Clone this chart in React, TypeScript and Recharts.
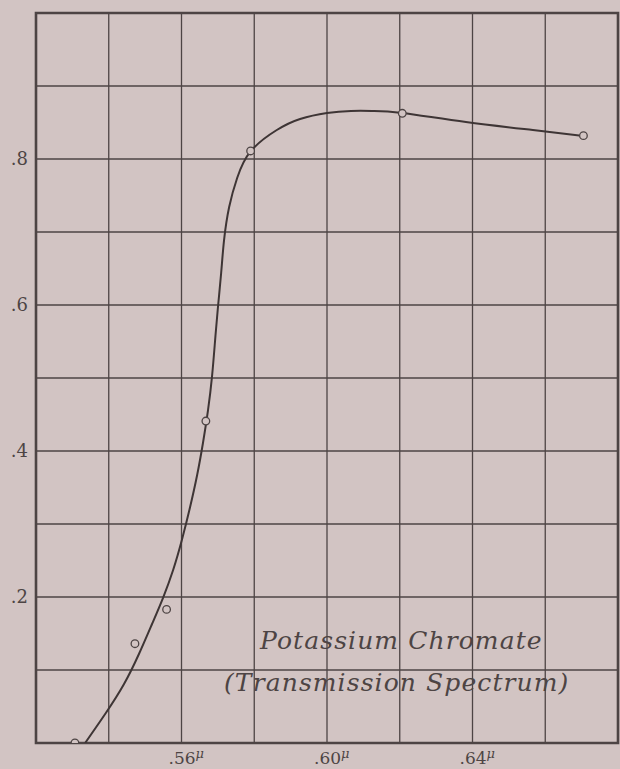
import React from 'react';
import { ComposedChart, Line, Scatter, XAxis, YAxis, CartesianGrid, ReferenceArea } from 'recharts';

// wavelength (micron) grid and labelled ticks
const xGrid = [0.52, 0.54, 0.56, 0.58, 0.6, 0.62, 0.64, 0.66, 0.68];
const xLabelled = [0.56, 0.6, 0.64];
const yGrid = [0, 0.1, 0.2, 0.3, 0.4, 0.5, 0.6, 0.7, 0.8, 0.9, 1];
const yLabelled = [0.2, 0.4, 0.6, 0.8];

// observed points (open circles)
const obsWave = [0.5307, 0.5472, 0.5559, 0.5667, 0.579, 0.6207, 0.6705];
const obsTrans = [0, 0.136, 0.183, 0.441, 0.811, 0.8626, 0.832];

// drawn curve
const curveWave = [0.5335, 0.5392, 0.5442, 0.5483, 0.5519, 0.5549, 0.5577, 0.5601, 0.5623, 0.5643, 0.5659, 0.5673, 0.5684, 0.5692, 0.57, 0.5709, 0.5717, 0.5731, 0.5753, 0.5791, 0.5862, 0.5926, 0.6, 0.6066, 0.6129, 0.6207, 0.6382, 0.6566, 0.6705];
const curveTrans = [0, 0.0411, 0.0808, 0.1219, 0.163, 0.1986, 0.237, 0.2781, 0.3219, 0.3671, 0.411, 0.4562, 0.5027, 0.5493, 0.5959, 0.6438, 0.689, 0.7342, 0.774, 0.811, 0.8397, 0.8548, 0.863, 0.8658, 0.8658, 0.863, 0.8507, 0.8397, 0.8315];

const points = obsWave.map((x, i) => ({ x, y: obsTrans[i] }));
const curve = curveWave.map((x, i) => ({ x, y: curveTrans[i] }));

const BG = '#d2c4c3';
const INK = '#4d4444';
const FONT = '"DejaVu Serif", "Liberation Serif", serif';

const fmt = (v: number) => '.' + Math.round(v * 100).toString().padStart(2, '0');

const XTick = (props: any) => {
  const { x, y, payload } = props;
  if (!xLabelled.some((v) => Math.abs(v - payload.value) < 1e-6)) return <g />;
  return (
    <text x={x - 13} y={y + 13} fill={INK} fontFamily={FONT} fontSize={17}>
      {fmt(payload.value)}
      <tspan dy={-6} fontSize={13} fontStyle="italic">μ</tspan>
    </text>
  );
};

const YTick = (props: any) => {
  const { x, y, payload } = props;
  if (!yLabelled.some((v) => Math.abs(v - payload.value) < 1e-6)) return <g />;
  return (
    <text x={x} y={y + 6} textAnchor="end" fill={INK} fontFamily={FONT} fontSize={18}>
      {fmt(payload.value).replace(/0$/, '')}
    </text>
  );
};

const Dot = (props: any) => (
  <circle cx={props.cx} cy={props.cy} r={3.8} fill={BG} stroke={INK} strokeWidth={1.3} />
);

const noteStyle: React.CSSProperties = {
  position: 'absolute',
  fontFamily: FONT,
  fontStyle: 'italic',
  fontSize: 25,
  letterSpacing: 1.1,
  color: INK,
  whiteSpace: 'nowrap',
};

export default function App() {
  return (
    <div style={{ position: 'absolute', left: 0, top: 0, width: 620, height: 769, background: BG }}>
      <ComposedChart width={620} height={769} margin={{ top: 13, right: 2, bottom: 0, left: 0 }}>
        <CartesianGrid stroke={INK} strokeWidth={1.3} horizontalValues={yGrid} verticalValues={xGrid} />
        <XAxis
          type="number"
          dataKey="x"
          domain={[0.52, 0.68]}
          ticks={xGrid}
          height={26}
          tickLine={false}
          axisLine={false}
          tick={<XTick />}
          interval={0}
          allowDataOverflow
        />
        <YAxis
          type="number"
          dataKey="y"
          domain={[0, 1]}
          ticks={yGrid}
          width={36}
          tickLine={false}
          axisLine={false}
          tick={<YTick />}
          interval={0}
          allowDataOverflow
        />
        <ReferenceArea x1={0.52} x2={0.68} y1={0} y2={1} fill="none" stroke={INK} strokeWidth={2.6} ifOverflow="visible" />
        <Line data={curve} dataKey="y" type="natural" stroke="#3e3535" strokeWidth={2} dot={false} isAnimationActive={false} />
        <Scatter data={points} dataKey="y" shape={<Dot />} isAnimationActive={false} />
      </ComposedChart>
      <div style={{ ...noteStyle, left: 260, top: 626 }}>Potassium Chromate</div>
      <div style={{ ...noteStyle, left: 224, top: 668 }}>(Transmission Spectrum)</div>
    </div>
  );
}
